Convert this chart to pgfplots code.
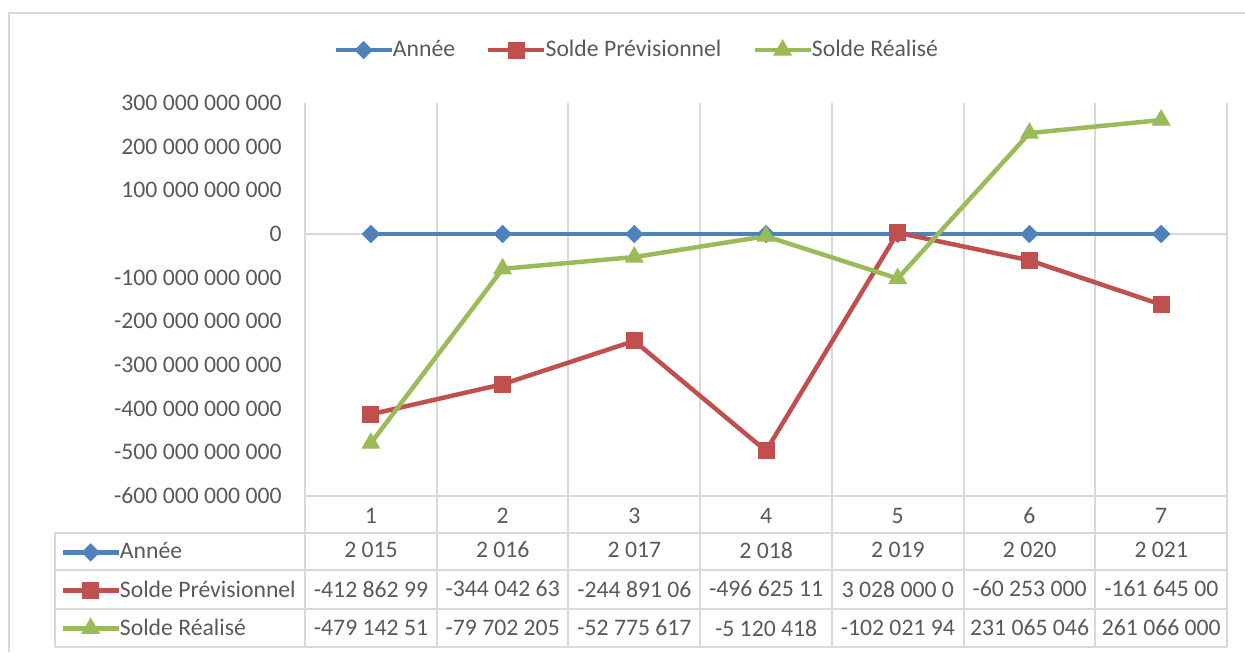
\documentclass[border=0pt]{standalone}
\usepackage{pgfplots}
\pgfplotsset{compat=1.18}
\usepackage{fontspec}
\setmainfont{Carlito}
\definecolor{cblue}{HTML}{4F81BD}
\definecolor{cred}{HTML}{C0504D}
\definecolor{cgreen}{HTML}{9BBB59}
\definecolor{cgrid}{HTML}{D9D9D9}
\definecolor{ctext}{HTML}{595959}

\pgfplotsset{
  anneestyle/.style={cblue, line width=2.25pt, mark=square*, mark size=3pt,
    mark options={solid, rotate=45, fill=cblue, line width=0.5pt}},
  prevstyle/.style={cred, line width=2.25pt, mark=square*, mark size=4pt,
    mark options={solid, fill=cred, line width=0.5pt}},
  realstyle/.style={cgreen, line width=2.25pt, mark=triangle*, mark size=5pt,
    mark options={solid, fill=cgreen, line width=0.5pt}},
  keyimage/.style={legend image code/.code={
    \draw[mark repeat=2,mark phase=2,##1] plot coordinates {(0pt,0pt) (14pt,0pt) (28pt,0pt)};}},
}

\begin{document}
\begin{tikzpicture}[font=\fontsize{11.85}{14}\selectfont, text=ctext]
% frame, grid and data table (pixel units of the reference)
\begin{scope}[x=0.5pt, y=-0.5pt, shift={(-152.5pt,248pt)}]
  \useasboundingbox (0,0) rectangle (1245,652);
  \draw[cgrid, line width=1pt] (9,652) -- (9,13) -- (1245,13);
  \foreach \k in {0,...,7}
    \draw[cgrid, line width=1pt] ({305+\k*131.714},103) -- ({305+\k*131.714},647);
  \draw[cgrid, line width=1pt] (55,533) -- (55,647);
  \foreach \yy in {533,570,609,647}
    \draw[cgrid, line width=1pt] (55,\yy) -- (1227,\yy);
  \draw[cgrid, line width=1pt] (305,496.5) -- (1227,496.5);
  \draw[cgrid, line width=1pt] (305,234) -- (1227,234);
  \foreach \t [count=\i] in {2 015,2 016,2 017,2 018,2 019,2 020,2 021}
    \node at ({371+(\i-1)*131.714},550) {\t};
  \foreach \t [count=\i] in {-412 862 99,-344 042 63,-244 891 06,-496 625 11,3 028 000 0,-60 253 000,-161 645 00}
    \node at ({371+(\i-1)*131.714},589) {\t};
  \foreach \t [count=\i] in {-479 142 51,-79 702 205,-52 775 617,-5 120 418,-102 021 94,231 065 046,261 066 000}
    \node at ({371+(\i-1)*131.714},628) {\t};
\end{scope}

% legend keys of the data table
\begin{axis}[
  scale only axis, width=461pt, height=196.5pt, hide axis,
  xmin=0, xmax=1, ymin=0, ymax=1, keyimage,
  legend cell align=left,
  legend style={at={(-0.2657,-0.0941)}, anchor=north west, draw=none, fill=none,
    inner sep=0pt, row sep=0pt, nodes={inner sep=0pt, minimum height=19pt},
    /tikz/every odd column/.append style={column sep=-0.5pt}},
]
\addlegendimage{anneestyle}\addlegendentry{Année}
\addlegendimage{prevstyle}\addlegendentry{Solde Prévisionnel}
\addlegendimage{realstyle}\addlegendentry{Solde Réalisé}
\end{axis}

\begin{axis}[
  scale only axis, width=461pt, height=196.5pt,
  xmin=0.5, xmax=7.5, ymin=-6e11, ymax=3e11,
  scaled y ticks=false,
  axis line style={draw=none}, major tick length=0pt,
  xtick={1,2,3,4,5,6,7}, xticklabels={1,2,3,4,5,6,7},
  xticklabel style={anchor=center, inner sep=0pt, yshift=-10pt},
  ytick={-6e11,-5e11,-4e11,-3e11,-2e11,-1e11,0,1e11,2e11,3e11},
  yticklabels={-600 000 000 000,-500 000 000 000,-400 000 000 000,-300 000 000 000,-200 000 000 000,-100 000 000 000,0,100 000 000 000,200 000 000 000,300 000 000 000},
  yticklabel style={anchor=east, inner sep=0pt, xshift=-11.5pt},
  keyimage,
  legend columns=-1,
  legend style={at={(0.0304,1.1349)}, anchor=west, draw=none, fill=none,
    inner sep=0pt, nodes={inner sep=0pt},
    /tikz/every odd column/.append style={column sep=-0.5pt},
    /tikz/every even column/.append style={column sep=15.5pt}},
]
\addplot[anneestyle] coordinates {(1,2015)(2,2016)(3,2017)(4,2018)(5,2019)(6,2020)(7,2021)};
\addplot[prevstyle] coordinates {(1,-412862990000)(2,-344042630000)(3,-244891060000)(4,-496625110000)(5,3028000000)(6,-60253000000)(7,-161645000000)};
\addplot[realstyle] coordinates {(1,-479142510000)(2,-79702205000)(3,-52775617000)(4,-5120418000)(5,-102021940000)(6,231065046000)(7,261066000000)};
\legend{Année,Solde Prévisionnel,Solde Réalisé}
\end{axis}
\end{tikzpicture}
\end{document}
